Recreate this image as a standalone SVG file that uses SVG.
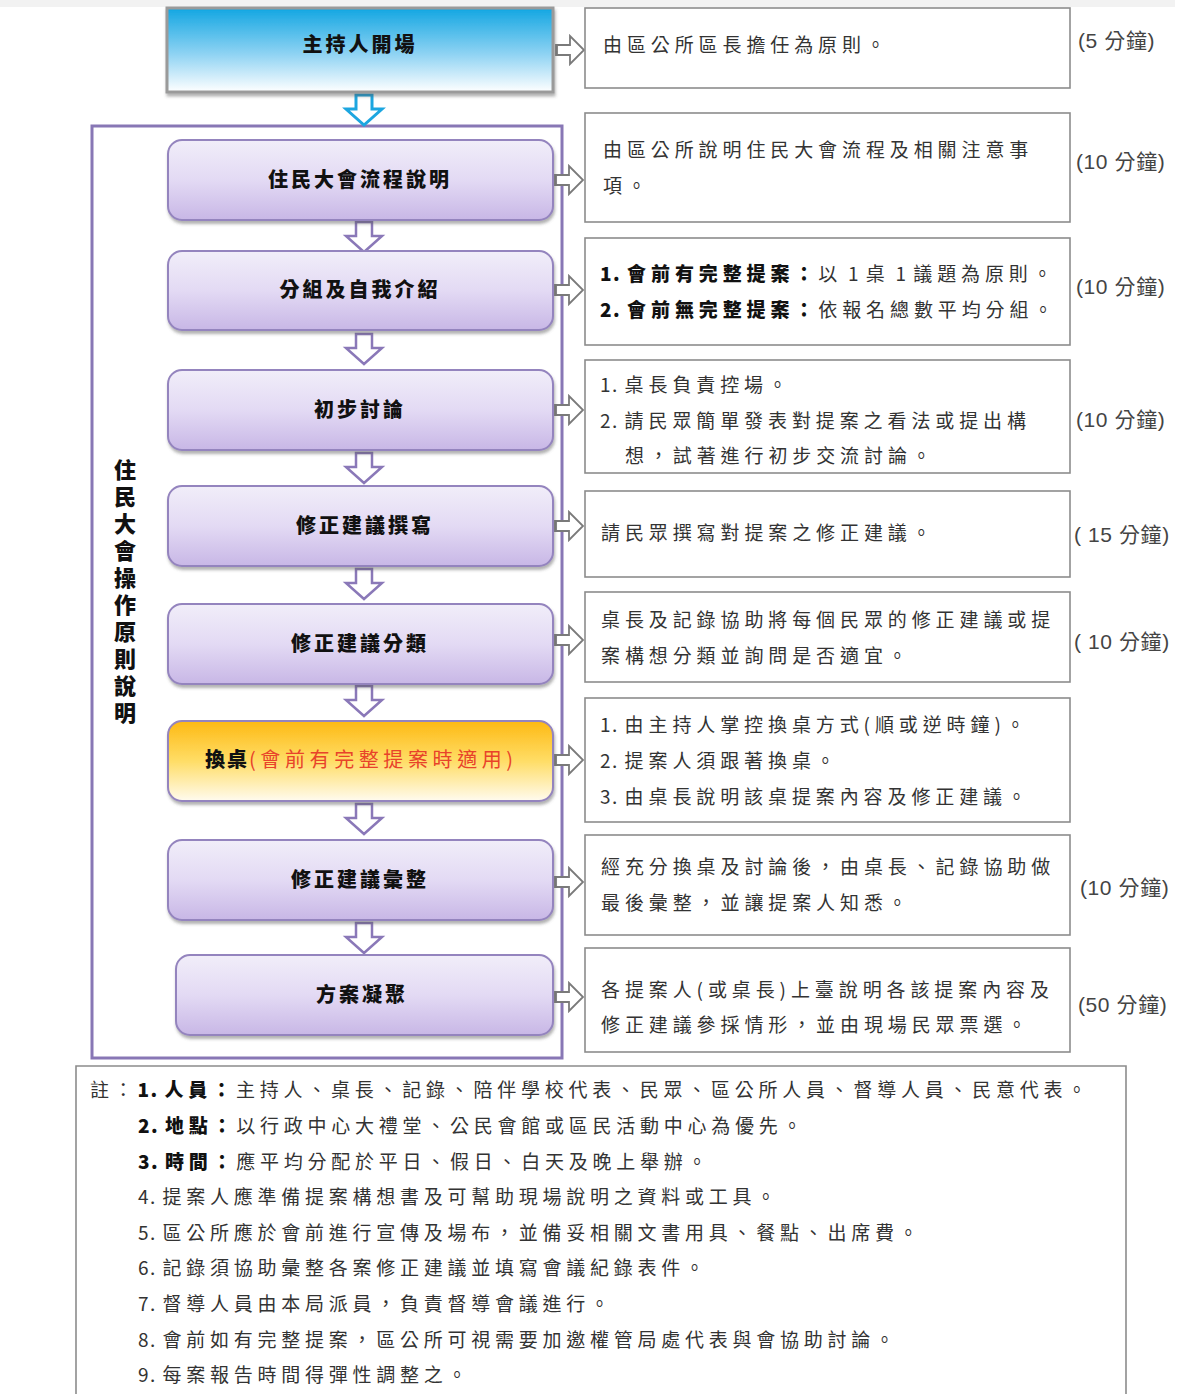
<svg xmlns="http://www.w3.org/2000/svg" width="1188" height="1394" viewBox="0 0 1188 1394">
<defs>
<linearGradient id="gBlue" x1="0" y1="0" x2="0" y2="1">
<stop offset="0" stop-color="#12A6E2"/><stop offset="0.55" stop-color="#8FD3F3"/><stop offset="1" stop-color="#FFFFFF"/>
</linearGradient>
<linearGradient id="gPurple" x1="0" y1="0" x2="0" y2="1">
<stop offset="0" stop-color="#F1EEF9"/><stop offset="0.5" stop-color="#E3DAF4"/><stop offset="1" stop-color="#C8B7E6"/>
</linearGradient>
<linearGradient id="gOrange" x1="0" y1="0" x2="0" y2="1">
<stop offset="0" stop-color="#FDB913"/><stop offset="0.5" stop-color="#FFDD66"/><stop offset="1" stop-color="#FFFBEF"/>
</linearGradient>
<path id="dArrow" d="M -8,0 h 16 v 14 h 10 l -18,16 l -18,-16 h 10 z"/>
<g id="rArrow">
<rect x="-2" y="-6" width="6" height="12" fill="#8a8a8a"/>
<path d="M 0,-5 h 13 v -9 l 14,14 l -14,14 v -9 h -13 z" fill="#fff" stroke="#7a7a7a" stroke-width="1.8"/>
</g>
<filter id="sh" x="-5%" y="-10%" width="110%" height="130%">
<feDropShadow dx="1" dy="3" stdDeviation="1.5" flood-color="#555" flood-opacity="0.45"/>
</filter>
</defs>
<style>
.pbox{fill:url(#gPurple);stroke:#9484BE;stroke-width:2}
.rbox{fill:#fff;stroke:#8c8c8c;stroke-width:1.6}
.title{font-family:"Noto Sans CJK TC","Noto Sans CJK SC",sans-serif;font-size:20px;font-weight:900;letter-spacing:3px;fill:#111;text-anchor:middle}
.desc{font-family:"Noto Sans CJK TC","Noto Sans CJK SC",sans-serif;font-size:19px;letter-spacing:4.9px;fill:#333}
.b{font-weight:900;fill:#111}
.n{letter-spacing:1.5px}
.time{font-family:"Liberation Sans","Noto Sans CJK TC",sans-serif;font-size:21px;letter-spacing:0.6px;fill:#444}
.note{font-family:"Noto Sans CJK TC","Noto Sans CJK SC",sans-serif;font-size:19px;letter-spacing:4.75px;fill:#333}
</style>
<rect x="0" y="0" width="1188" height="1394" fill="#fff"/>
<rect x="0" y="0" width="1175" height="7" fill="#f2f2f2"/>

<g id="frame">
<rect x="92" y="126" width="470" height="932" fill="none" stroke="#8877B5" stroke-width="3"/>
<text x="125" y="459" writing-mode="vertical-rl" font-family="'Noto Sans CJK TC','Noto Sans CJK SC',sans-serif" font-size="22" font-weight="900" letter-spacing="5" fill="#111">住民大會操作原則說明</text>
</g>

<g id="connectors">
<use href="#dArrow" x="364" y="95" fill="#fff" stroke="#1CA6E0" stroke-width="3"/>
<use href="#dArrow" x="364" y="222" fill="#fff" stroke="#8A78B8" stroke-width="2.5"/>
<use href="#dArrow" x="364" y="334" fill="#fff" stroke="#8A78B8" stroke-width="2.5"/>
<use href="#dArrow" x="364" y="453" fill="#fff" stroke="#8A78B8" stroke-width="2.5"/>
<use href="#dArrow" x="364" y="569" fill="#fff" stroke="#8A78B8" stroke-width="2.5"/>
<use href="#dArrow" x="364" y="686" fill="#fff" stroke="#8A78B8" stroke-width="2.5"/>
<use href="#dArrow" x="364" y="804" fill="#fff" stroke="#8A78B8" stroke-width="2.5"/>
<use href="#dArrow" x="364" y="923" fill="#fff" stroke="#8A78B8" stroke-width="2.5"/>
<use href="#rArrow" x="557" y="50"/>
<use href="#rArrow" x="556" y="180"/>
<use href="#rArrow" x="556" y="290"/>
<use href="#rArrow" x="556" y="410"/>
<use href="#rArrow" x="556" y="526"/>
<use href="#rArrow" x="556" y="640"/>
<use href="#rArrow" x="556" y="760"/>
<use href="#rArrow" x="556" y="882"/>
<use href="#rArrow" x="556" y="997"/>
</g>

<g id="n0">
<rect x="167" y="8" width="386" height="84" fill="url(#gBlue)" stroke="#9a9a9a" stroke-width="3" filter="url(#sh)"/>
<text class="title" x="360" y="52">主持人開場</text>
</g>
<g id="n1"><rect class="pbox" x="168" y="140" width="385" height="80" rx="14" filter="url(#sh)"/><text class="title" x="360" y="187">住民大會流程說明</text></g>
<g id="n2"><rect class="pbox" x="168" y="251" width="385" height="79" rx="14" filter="url(#sh)"/><text class="title" x="360" y="297">分組及自我介紹</text></g>
<g id="n3"><rect class="pbox" x="168" y="370" width="385" height="80" rx="14" filter="url(#sh)"/><text class="title" x="360" y="417">初步討論</text></g>
<g id="n4"><rect class="pbox" x="168" y="486" width="385" height="80" rx="14" filter="url(#sh)"/><text class="title" x="365" y="533">修正建議撰寫</text></g>
<g id="n5"><rect class="pbox" x="168" y="604" width="385" height="80" rx="14" filter="url(#sh)"/><text class="title" x="360" y="651">修正建議分類</text></g>
<g id="n6"><rect x="168" y="721" width="385" height="80" rx="14" fill="url(#gOrange)" stroke="#9484BE" stroke-width="2" filter="url(#sh)"/>
<text x="205" y="767" font-family="'Noto Sans CJK TC','Noto Sans CJK SC',sans-serif" font-size="20"><tspan font-weight="900" fill="#111" letter-spacing="2">換桌</tspan><tspan fill="#E8432A" letter-spacing="4.6">(會前有完整提案時適用)</tspan></text></g>
<g id="n7"><rect class="pbox" x="168" y="840" width="385" height="80" rx="14" filter="url(#sh)"/><text class="title" x="360" y="887">修正建議彙整</text></g>
<g id="n8"><rect class="pbox" x="176" y="955" width="377" height="80" rx="14" filter="url(#sh)"/><text class="title" x="362" y="1002">方案凝聚</text></g>

<g id="d0"><rect class="rbox" x="585" y="8" width="485" height="80"/><text class="desc" x="603" y="52">由區公所區長擔任為原則。</text><text class="time" x="1078" y="48">(5 分鐘)</text></g>
<g id="d1"><rect class="rbox" x="585" y="113" width="485" height="109"/><text class="desc" x="603" y="157">由區公所說明住民大會流程及相關注意事</text><text class="desc" x="603" y="193">項。</text><text class="time" x="1076" y="169">(10 分鐘)</text></g>
<g id="d2"><rect class="rbox" x="585" y="238" width="485" height="107"/>
<text class="desc" x="600" y="281"><tspan class="b"><tspan class="n">1. </tspan>會前有完整提案：</tspan>以<tspan class="n"> 1 </tspan>桌<tspan class="n"> 1 </tspan>議題為原則。</text>
<text class="desc" x="600" y="317"><tspan class="b"><tspan class="n">2. </tspan>會前無完整提案：</tspan>依報名總數平均分組。</text>
<text class="time" x="1076" y="294">(10 分鐘)</text></g>
<g id="d3"><rect class="rbox" x="585" y="360" width="485" height="113"/>
<text class="desc" x="600" y="392"><tspan class="n">1. </tspan>桌長負責控場。</text>
<text class="desc" x="600" y="428"><tspan class="n">2. </tspan>請民眾簡單發表對提案之看法或提出構</text>
<text class="desc" x="625" y="463">想，試著進行初步交流討論。</text>
<text class="time" x="1076" y="427">(10 分鐘)</text></g>
<g id="d4"><rect class="rbox" x="585" y="491" width="485" height="86"/><text class="desc" x="601" y="540">請民眾撰寫對提案之修正建議。</text><text class="time" x="1074" y="542">( 15 分鐘)</text></g>
<g id="d5"><rect class="rbox" x="585" y="592" width="485" height="90"/><text class="desc" x="601" y="627">桌長及記錄協助將每個民眾的修正建議或提</text><text class="desc" x="601" y="663">案構想分類並詢問是否適宜。</text><text class="time" x="1074" y="649">( 10 分鐘)</text></g>
<g id="d6"><rect class="rbox" x="585" y="698" width="485" height="124"/>
<text class="desc" x="600" y="732"><tspan class="n">1. </tspan>由主持人掌控換桌方式(順或逆時鐘)。</text>
<text class="desc" x="600" y="768"><tspan class="n">2. </tspan>提案人須跟著換桌。</text>
<text class="desc" x="600" y="804"><tspan class="n">3. </tspan>由桌長說明該桌提案內容及修正建議。</text></g>
<g id="d7"><rect class="rbox" x="585" y="835" width="485" height="100"/><text class="desc" x="601" y="874">經充分換桌及討論後，由桌長、記錄協助做</text><text class="desc" x="601" y="910">最後彙整，並讓提案人知悉。</text><text class="time" x="1080" y="895">(10 分鐘)</text></g>
<g id="d8"><rect class="rbox" x="585" y="948" width="485" height="104"/><text class="desc" x="601" y="997">各提案人(或桌長)上臺說明各該提案內容及</text><text class="desc" x="601" y="1032">修正建議參採情形，並由現場民眾票選。</text><text class="time" x="1078" y="1012">(50 分鐘)</text></g>

<g id="notes">
<path d="M 76,1400 V 1066 H 1126 V 1400" fill="#fff" stroke="#8c8c8c" stroke-width="1.6"/>
<text class="note" x="90" y="1097">註：<tspan class="b"><tspan class="n">1. </tspan>人員：</tspan>主持人、桌長、記錄、陪伴學校代表、民眾、區公所人員、督導人員、民意代表。</text>
<text class="note" x="138" y="1133"><tspan class="b"><tspan class="n">2. </tspan>地點：</tspan>以行政中心大禮堂、公民會館或區民活動中心為優先。</text>
<text class="note" x="138" y="1169"><tspan class="b"><tspan class="n">3. </tspan>時間：</tspan>應平均分配於平日、假日、白天及晚上舉辦。</text>
<text class="note" x="138" y="1204"><tspan class="n">4. </tspan>提案人應準備提案構想書及可幫助現場說明之資料或工具。</text>
<text class="note" x="138" y="1240"><tspan class="n">5. </tspan>區公所應於會前進行宣傳及場布，並備妥相關文書用具、餐點、出席費。</text>
<text class="note" x="138" y="1275"><tspan class="n">6. </tspan>記錄須協助彙整各案修正建議並填寫會議紀錄表件。</text>
<text class="note" x="138" y="1311"><tspan class="n">7. </tspan>督導人員由本局派員，負責督導會議進行。</text>
<text class="note" x="138" y="1347"><tspan class="n">8. </tspan>會前如有完整提案，區公所可視需要加邀權管局處代表與會協助討論。</text>
<text class="note" x="138" y="1382"><tspan class="n">9. </tspan>每案報告時間得彈性調整之。</text>
</g>
</svg>
